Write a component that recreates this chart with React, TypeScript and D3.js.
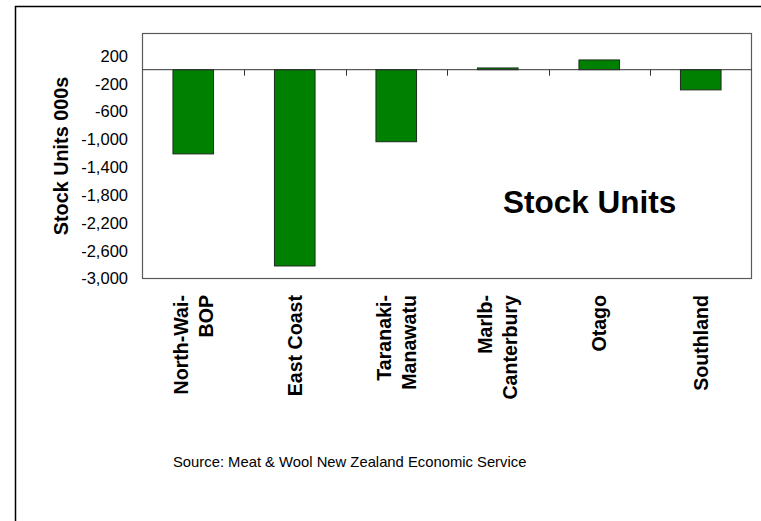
import React, {useMemo} from 'react'
import * as d3 from 'd3'

const regions = ['North-Wai-BOP', 'East Coast', 'Taranaki-Manawatu', 'Marlb-Canterbury', 'Otago', 'Southland']
const regionLines = [['North-Wai-', 'BOP'], ['East Coast'], ['Taranaki-', 'Manawatu'], ['Marlb-', 'Canterbury'], ['Otago'], ['Southland']]
const stockUnits = [-1210, -2820, -1035, 25, 140, -290]
const yTicks = [200, -200, -600, -1000, -1400, -1800, -2200, -2600, -3000]

const W = 761
const H = 521
const plot = {left: 142.5, top: 33.5, right: 751.5, bottom: 278.5}
const font = 'Arial, "Liberation Sans", sans-serif'

// excel style: plain hyphen for the minus sign
const fmt = d3.formatLocale({decimal: '.', thousands: ',', grouping: [3], currency: ['$', ''], minus: '-'}).format(',')

const App = () => {
  const x = useMemo(() => d3.scaleBand<string>()
    .domain(regions)
    .range([plot.left, plot.right])
    .paddingInner(0.6)
    .paddingOuter(0.3), [])

  const y = useMemo(() => d3.scaleLinear()
    .domain([-3000, 520])
    .range([plot.bottom, plot.top]), [])

  const step = x.step()
  const y0 = y(0)

  return (
    <div style={{position: 'fixed', left: 0, top: 0}}>
      <svg width={W} height={H} style={{display: 'block', background: '#fff'}}>
        {/* outer frame, cropped at right and bottom */}
        <path d={`M15.5,${H} V6.5 H${W}`} fill="none" stroke="#000" strokeWidth={1.5}/>

        <rect x={plot.left} y={plot.top} width={plot.right - plot.left} height={plot.bottom - plot.top}
          fill="none" stroke="#5a5a5a" strokeWidth={1.2}/>

        {regions.map((r, i) => {
          const v = stockUnits[i]
          const top = v > 0 ? y(v) : y0
          const h = Math.abs(y(v) - y0)
          return (
            <rect key={r} x={x(r)} y={top} width={x.bandwidth()} height={h}
              fill="#008000" stroke="#1c2a1c" strokeWidth={1}/>
          )
        })}

        {/* zero line with category ticks */}
        <line x1={plot.left} x2={plot.right} y1={y0} y2={y0} stroke="#333" strokeWidth={1}/>
        {regions.slice(1).map((r) => {
          const tx = Math.round((x(r) as number) - step * 0.3) + 0.5
          return <line key={r} x1={tx} x2={tx} y1={y0} y2={y0 + 6} stroke="#333" strokeWidth={1}/>
        })}

        {yTicks.map((t) => (
          <text key={t} x={128} y={y(t)} dy="0.36em" textAnchor="end"
            fontFamily={font} fontSize={16.5} fill="#000">{fmt(t)}</text>
        ))}

        <text transform="translate(68,156) rotate(-90)" textAnchor="middle"
          fontFamily={font} fontSize={19.8} fontWeight="bold" fill="#000">Stock Units 000s</text>

        {regions.map((r, i) => {
          const cx = (x(r) as number) + x.bandwidth() / 2
          const lines = regionLines[i]
          return (
            <text key={r} transform={`translate(${cx},295) rotate(-90)`} textAnchor="end"
              fontFamily={font} fontSize={19.6} fontWeight="bold" fill="#000">
              {lines.map((l, j) => (
                <tspan key={j} x={0} y={(j - (lines.length - 1) / 2) * 25 + 7}>{l}</tspan>
              ))}
            </text>
          )
        })}

        <text x={503} y={213} fontFamily={font} fontSize={31.5} fontWeight="bold" fill="#000">Stock Units</text>

        <text x={173} y={466.5} fontFamily={font} fontSize={14.8} fill="#000">
          Source: Meat &amp; Wool New Zealand Economic Service
        </text>
      </svg>
    </div>
  )
}

export default App
